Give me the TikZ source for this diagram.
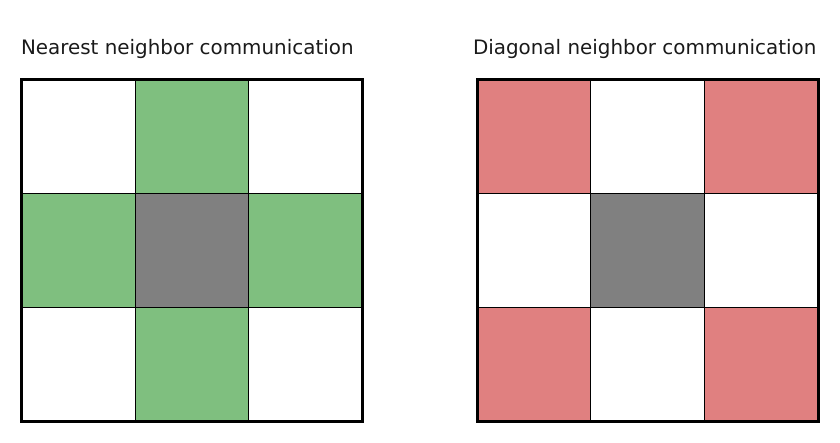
\documentclass[tikz,border=0pt]{standalone}
\usepackage{fontspec}
\setmainfont{DejaVu Sans}
\begin{document}
\begin{tikzpicture}[x=113.67pt,y=113.67pt]
    
\def\NEARCOLOR{nearcol}
\def\DIAGCOLOR{diagcol}
\def\CENTERCOLOR{centercol}
\definecolor{nearcol}{HTML}{7FBF7F}
\definecolor{diagcol}{HTML}{E08080}
\definecolor{centercol}{HTML}{808080}
\definecolor{titlecol}{HTML}{1A1A1A}
	\useasboundingbox (-21.5pt,-21pt) rectangle ++ (840pt,442pt);
	\node[anchor=base west,inner sep=0pt,text=titlecol,font=\fontsize{19.9}{23}\selectfont] (nearTitle) at (-0.7pt,366pt) {Nearest neighbor communication};
	\node[anchor=base west,inner sep=0pt,text=titlecol,font=\fontsize{19.9}{23}\selectfont] (diagTitle) at (451.3pt,366pt) {Diagonal neighbor communication};
	% nearest neighbors
	\fill[\NEARCOLOR] (1,2) rectangle ++ (1,1);
	\fill[\NEARCOLOR] (0,1) rectangle ++ (1,1);
	\fill[\CENTERCOLOR] (1,1) rectangle ++ (1,1);
	\fill[\NEARCOLOR] (2,1) rectangle ++ (1,1);
	\fill[\NEARCOLOR] (1,0) rectangle ++ (1,1);
	\draw[step=1.0,black,line width=1pt] (0,0) grid (3,3);
	\draw[black,line width=3pt] (0,0) rectangle (3,3);
	% diagonal neighbors
	\begin{scope}[xshift=455.5pt]
	\fill[\DIAGCOLOR] (0,2) rectangle ++ (1,1);
	\fill[\DIAGCOLOR] (2,2) rectangle ++ (1,1);
	\fill[\CENTERCOLOR] (1,1) rectangle ++ (1,1);
	\fill[\DIAGCOLOR] (0,0) rectangle ++ (1,1);
	\fill[\DIAGCOLOR] (2,0) rectangle ++ (1,1);
	\draw[step=1.0,black,line width=1pt] (0,0) grid (3,3);
	\draw[black,line width=3pt] (0,0) rectangle (3,3);
	\end{scope}

          \end{tikzpicture}
\end{document}
